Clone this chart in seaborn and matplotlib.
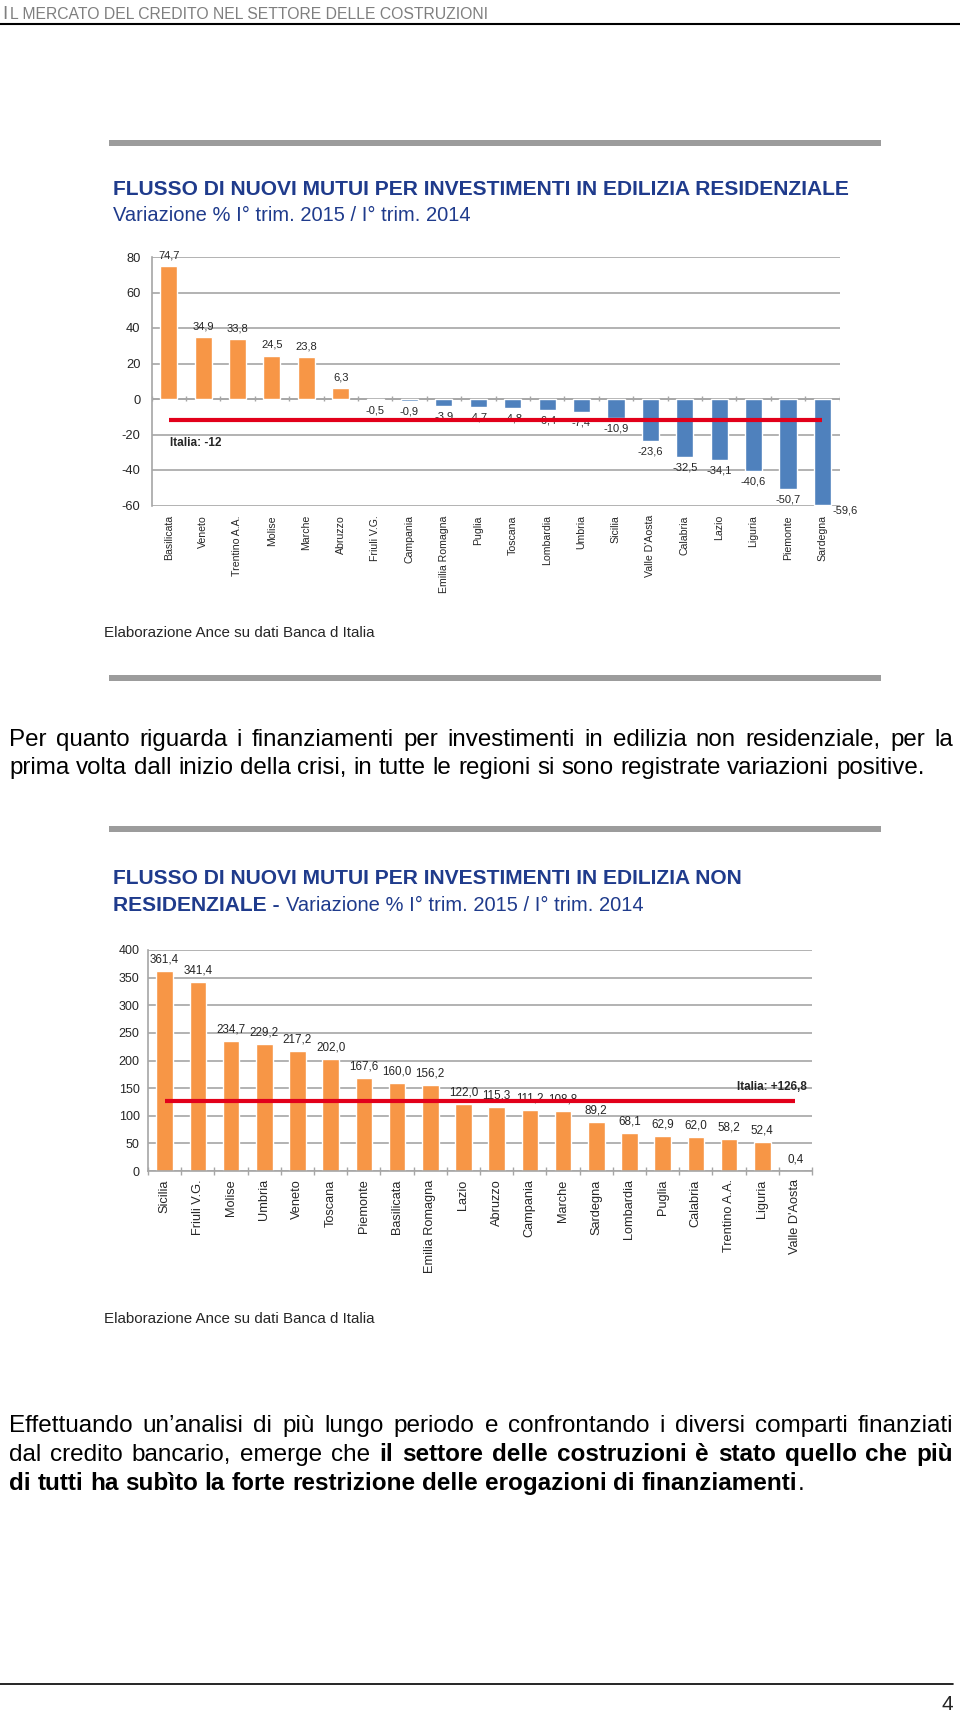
import numpy as np
import pandas as pd
import seaborn as sns
from matplotlib import pyplot as plt
from matplotlib.patches import Rectangle
from matplotlib.lines import Line2D

# Data - grafico 1 (edilizia residenziale)
regioni_res = ["Basilicata", "Veneto", "Trentino A.A.", "Molise", "Marche", "Abruzzo",
               "Friuli V.G.", "Campania", "Emilia Romagna", "Puglia", "Toscana", "Lombardia",
               "Umbria", "Sicilia", "Valle D'Aosta", "Calabria", "Lazio", "Liguria",
               "Piemonte", "Sardegna"]
var_res = [74.7, 34.9, 33.8, 24.5, 23.8, 6.3, -0.5, -0.9, -3.9, -4.7, -4.8, -6.4,
           -7.4, -10.9, -23.6, -32.5, -34.1, -40.6, -50.7, -59.6]
italia_res = -12

# Data - grafico 2 (edilizia non residenziale)
regioni_nonres = ["Sicilia", "Friuli V.G.", "Molise", "Umbria", "Veneto", "Toscana",
                  "Piemonte", "Basilicata", "Emilia Romagna", "Lazio", "Abruzzo", "Campania",
                  "Marche", "Sardegna", "Lombardia", "Puglia", "Calabria", "Trentino A.A.",
                  "Liguria", "Valle D'Aosta"]
var_nonres = [361.4, 341.4, 234.7, 229.2, 217.2, 202.0, 167.6, 160.0, 156.2, 122.0,
              115.3, 111.2, 108.8, 89.2, 68.1, 62.9, 62.0, 58.2, 52.4, 0.4]
italia_nonres = 126.8

ORANGE = "#F79646"
BLUE = "#4F81BD"
RED = "#E2001A"
GRID = "#A6A6A6"
NAVY = "#1F3B8C"
W, H = 960, 1714

sns.set_theme(style="white")
plt.rcParams['font.family'] = ['Liberation Sans', 'DejaVu Sans']
plt.rcParams['axes.unicode_minus'] = False
SANS = ['Liberation Sans', 'DejaVu Sans']

fig = plt.figure(figsize=(W / 100, H / 100), dpi=100)
fig.patch.set_facecolor("white")


def fx(x):
    return x / W


def fy(y):
    return 1 - y / H


def virgola(v):
    return f"{v:.1f}".replace(".", ",")


def gray_bar(y):
    fig.add_artist(Rectangle((fx(109), fy(y + 3)), fx(881 - 109), 6 / H,
                             transform=fig.transFigure, color="#9C9C9C", lw=0))


renderer = fig.canvas.get_renderer()


def text_line(y, tokens, size, justify=True, x0=9, x1=953):
    # tokens: (testo, grassetto, spazio_prima)
    arts = []
    for txt, bold, sp in tokens:
        t = fig.text(0, fy(y), txt, fontsize=size, family=SANS,
                     weight="bold" if bold else "normal", va="baseline", ha="left", color="black")
        arts.append((t, t.get_window_extent(renderer).width, sp))
    a = fig.text(0, 0, "a a", fontsize=size, family=SANS)
    b = fig.text(0, 0, "aa", fontsize=size, family=SANS)
    space = a.get_window_extent(renderer).width - b.get_window_extent(renderer).width
    a.remove()
    b.remove()
    total = sum(w for _, w, _ in arts)
    n_gap = sum(1 for _, _, sp in arts[1:] if sp)
    gap = (x1 - x0 - total) / n_gap if (justify and n_gap) else space
    gap = max(gap, 0.6 * space)
    x = x0
    for i, (t, w, sp) in enumerate(arts):
        if i > 0 and sp:
            x += gap
        t.set_x(fx(x))
        x += w


def words(s, bold=False):
    return [(w, bold, True) for w in s.split()]


# Intestazione
fig.text(fx(2), fy(19), "I", fontsize=13.5, color="#7F7F7F", va="baseline")
fig.text(fx(10), fy(19), "L MERCATO DEL CREDITO NEL SETTORE DELLE COSTRUZIONI",
         fontsize=11.3, color="#7F7F7F", va="baseline")
fig.add_artist(Line2D([0, 1], [fy(24), fy(24)], transform=fig.transFigure, color="black", lw=1.5))

# Titolo 1
gray_bar(143)
fig.text(fx(113), fy(195), "FLUSSO DI NUOVI MUTUI PER INVESTIMENTI IN EDILIZIA RESIDENZIALE",
         fontsize=15.1, weight="bold", color=NAVY, va="baseline")
fig.text(fx(113), fy(221), "Variazione % I° trim. 2015 / I° trim. 2014",
         fontsize=14.5, color=NAVY, va="baseline")

# Grafico 1
ax1 = fig.add_axes([fx(151.5), fy(505.5), (839.5 - 151.5) / W, (505.5 - 257) / H])
colori_res = [ORANGE if v > 0 else BLUE for v in var_res]
df1 = pd.DataFrame({"regione": regioni_res, "var": var_res})
sns.barplot(data=df1, x="regione", y="var", hue="regione", palette=colori_res,
            legend=False, width=0.5, saturation=1, ax=ax1, zorder=2)
ax1.set_ylim(-60, 80)
ax1.set_xlim(-0.5, len(regioni_res) - 0.5)
ax1.set_yticks(np.arange(-60, 81, 20))
ax1.yaxis.grid(True, color=GRID, lw=1.2, zorder=0)
ax1.set_axisbelow(True)
for s in ["top", "right", "bottom"]:
    ax1.spines[s].set_visible(False)
ax1.spines["left"].set_color(GRID)
ax1.spines["left"].set_linewidth(1.2)
ax1.axhline(0, color=GRID, lw=1.2, zorder=1)
ax1.vlines(np.arange(-0.5, len(regioni_res)), -1.2, 1.5, color=GRID, lw=1.0, zorder=1)
ax1.tick_params(axis="x", length=0, pad=7, labelsize=7.6, rotation=90)
ax1.tick_params(axis="y", length=0, pad=8, labelsize=9.3)
ax1.set_xlabel("")
ax1.set_ylabel("")
for i, v in enumerate(var_res):
    if i == len(var_res) - 1:
        ax1.annotate(virgola(v), (i + 0.25, v), xytext=(1, -4), textcoords="offset points",
                     ha="left", va="center", fontsize=8)
    elif v >= 0:
        ax1.annotate(virgola(v), (i, v), xytext=(0, 4), textcoords="offset points",
                     ha="center", va="bottom", fontsize=8)
    else:
        ax1.annotate(virgola(v), (i, v), xytext=(0, -4), textcoords="offset points",
                     ha="center", va="top", fontsize=8)
ax1.plot([0, len(regioni_res) - 1], [italia_res, italia_res], color=RED, lw=3, zorder=3,
         solid_capstyle="butt")
ax1.text(0.05, -25, "Italia: " + str(italia_res), fontsize=8.5, weight="bold", ha="left", va="center")

fig.text(fx(104), fy(637), "Elaborazione Ance su dati Banca d Italia", fontsize=10.9, va="baseline")
gray_bar(678)

# Paragrafo 1
text_line(746, words("Per quanto riguarda i finanziamenti per investimenti in edilizia non residenziale, per la"),
          17.4)
text_line(774, words("prima volta dall inizio della crisi, in tutte le regioni si sono registrate variazioni positive."),
          17.4, justify=False)

# Titolo 2
gray_bar(829)
fig.text(fx(113), fy(884), "FLUSSO DI NUOVI MUTUI PER INVESTIMENTI IN EDILIZIA NON",
         fontsize=15.1, weight="bold", color=NAVY, va="baseline")
t_r = fig.text(fx(113), fy(911), "RESIDENZIALE - ", fontsize=15.1, weight="bold",
               color=NAVY, va="baseline")
x_after = t_r.get_window_extent(renderer).x1
fig.text(x_after / W, fy(911), "Variazione % I° trim. 2015 / I° trim. 2014",
         fontsize=14.5, color=NAVY, va="baseline")

# Grafico 2
ax2 = fig.add_axes([fx(148), fy(1171), (812 - 148) / W, (1171 - 950) / H])
df2 = pd.DataFrame({"regione": regioni_nonres, "var": var_nonres})
sns.barplot(data=df2, x="regione", y="var", color=ORANGE, width=0.5, saturation=1, ax=ax2, zorder=2)
ax2.set_ylim(0, 400)
ax2.set_xlim(-0.5, len(regioni_nonres) - 0.5)
ax2.set_yticks(np.arange(0, 401, 50))
ax2.yaxis.grid(True, color=GRID, lw=1.2, zorder=0)
ax2.set_axisbelow(True)
for s in ["top", "right"]:
    ax2.spines[s].set_visible(False)
for s in ["left", "bottom"]:
    ax2.spines[s].set_color(GRID)
    ax2.spines[s].set_linewidth(1.2)
ax2.set_xticks(np.arange(-0.5, len(regioni_nonres)), minor=True)
ax2.tick_params(axis="x", which="minor", length=6, direction="inout", color=GRID, bottom=True)
ax2.tick_params(axis="x", which="major", length=0, pad=6, labelsize=9.2, rotation=90)
ax2.tick_params(axis="y", length=0, pad=6, labelsize=9)
ax2.set_xlabel("")
ax2.set_ylabel("")
for i, v in enumerate(var_nonres):
    ax2.annotate(virgola(v), (i, v), xytext=(0, 4), textcoords="offset points",
                 ha="center", va="bottom", fontsize=8.4)
ax2.plot([0, len(regioni_nonres) - 1], [italia_nonres, italia_nonres], color=RED, lw=3, zorder=3,
         solid_capstyle="butt")
ax2.text(19.35, 152, "Italia: +" + virgola(italia_nonres), fontsize=8.4, weight="bold",
         ha="right", va="center")

fig.text(fx(104), fy(1323), "Elaborazione Ance su dati Banca d Italia", fontsize=10.9, va="baseline")

# Paragrafo finale
text_line(1432, words("Effettuando un’analisi di più lungo periodo e confrontando i diversi comparti finanziati"),
          17.5)
text_line(1461, words("dal credito bancario, emerge che")
          + words("il settore delle costruzioni è stato quello che più", bold=True), 17.5)
text_line(1490, words("di tutti ha subìto la forte restrizione delle erogazioni di finanziamenti", bold=True)
          + [(".", False, False)], 17.5, justify=False)

# Piè di pagina
fig.add_artist(Line2D([0, fx(953)], [fy(1684), fy(1684)], transform=fig.transFigure, color="black", lw=1.2))
fig.text(fx(953), fy(1710), "4", fontsize=15, ha="right", va="baseline")

fig.savefig("out.png", dpi=100, facecolor="white")
